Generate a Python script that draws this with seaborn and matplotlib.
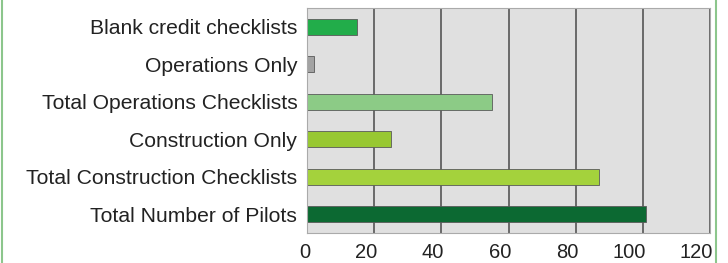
import seaborn as sns
import matplotlib.pyplot as plt
import matplotlib.lines as mlines
import matplotlib.transforms as mtransforms
import pandas as pd

categorias = ["Blank credit checklists", "Operations Only", "Total Operations Checklists",
              "Construction Only", "Total Construction Checklists", "Total Number of Pilots"]
valores = [15, 2, 55, 25, 87, 101]
cores = ["#22ad4a", "#a3a3a3", "#8ccb86", "#98c832", "#a4d23c", "#0c6932"]
ticks_x = [0, 20, 40, 60, 80, 100, 120]

df = pd.DataFrame({"Categoria": categorias, "Valor": valores})

sns.set_style("white")
plt.rcParams["font.family"] = ["Liberation Sans", "DejaVu Sans"]

fig = plt.figure(figsize=(7.28, 2.63), dpi=100)
ax = fig.add_axes([0.4217, 0.114, 0.5536, 0.856])
ax.set_facecolor("#e0e0e0")

sns.barplot(data=df, y="Categoria", x="Valor", hue="Categoria", palette=cores,
            saturation=1, width=0.43, legend=False, ax=ax,
            edgecolor="#5a5a5a", linewidth=0.6)

ax.set_xlim(0, 120)
ax.set_xticks(ticks_x)
ax.xaxis.grid(True, color="#555555", linewidth=1.2)
ax.set_axisbelow(True)
ax.set_xlabel("")
ax.set_ylabel("")
ax.tick_params(axis="y", length=0, pad=7, labelsize=15.2, labelcolor="#222222")
ax.tick_params(axis="x", length=0, pad=7, labelsize=14.5, labelcolor="#222222")
# rótulos do eixo x alinhados à direita da linha de grade
desloca = mtransforms.ScaledTranslation(0.03, 0, fig.dpi_scale_trans)
for lbl in ax.get_xticklabels():
    lbl.set_horizontalalignment("right")
    lbl.set_transform(lbl.get_transform() + desloca)
for s in ax.spines.values():
    s.set_color("#aaaaaa")
    s.set_linewidth(0.8)

# bordas verdes da figura
fig.add_artist(mlines.Line2D([0.003, 0.003], [0, 1], color="#8cc68c", linewidth=1.5))
fig.add_artist(mlines.Line2D([0.984, 0.984], [0, 1], color="#8cc68c", linewidth=1.5))

fig.savefig("out.png", dpi=100)
